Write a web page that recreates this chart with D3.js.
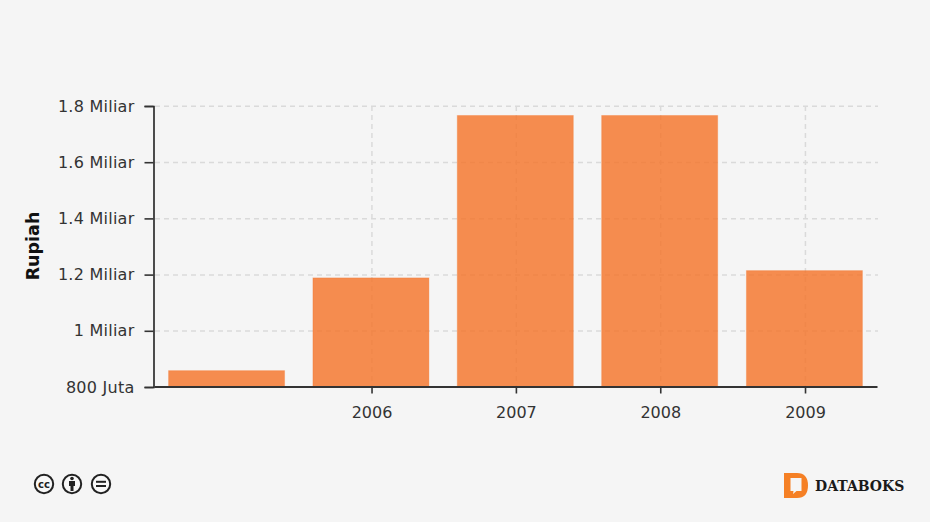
<!DOCTYPE html>
<html><head><meta charset="utf-8">
<script src="https://cdnjs.cloudflare.com/ajax/libs/d3/7.8.5/d3.min.js"></script>
<style>
html,body{margin:0;padding:0;background:#f5f5f5;}
svg{display:block;font-family:"DejaVu Sans",sans-serif;}
</style></head><body><svg id="c" width="930" height="522"></svg>
<script>
const years = [2005, 2006, 2007, 2008, 2009];
const values = [860e6, 1190e6, 1768e6, 1768e6, 1216e6];
const xTickYears = [2006, 2007, 2008, 2009];
const yTicks = [800e6, 1000e6, 1200e6, 1400e6, 1600e6, 1800e6];
const yTickLabels = ["800 Juta", "1 Miliar", "1.2 Miliar", "1.4 Miliar", "1.6 Miliar", "1.8 Miliar"];
const yTitle = "Rupiah";
const brand = "DATABOKS";

const svg = d3.select("#c");
const L = 154, R = 877, T = 106, B = 387;
const d = y => new Date(Date.UTC(y, 0, 1));
const dayPx = 0.3955, x2006 = 371.3;
const x = d3.scaleUtc()
  .domain([d3.utcDay.offset(d(2006), -(x2006 - L) / dayPx), d3.utcDay.offset(d(2006), (R - x2006) / dayPx)])
  .range([L, R]);
const y = d3.scaleLinear().domain([800e6, 1800e6]).range([B, T]);
const barW = 116;

// grid
svg.append("g").selectAll("line").data(yTicks.slice(1)).join("line")
  .attr("x1", L + 1).attr("x2", R + 1).attr("y1", v => y(v) + .3).attr("y2", v => y(v) + .3)
  .attr("stroke", "#dadada").attr("stroke-width", 1.5).attr("stroke-dasharray", "5 4");
svg.append("g").selectAll("line").data(xTickYears).join("line")
  .attr("y1", T).attr("y2", B).attr("x1", v => x(d(v)) + .4).attr("x2", v => x(d(v)) + .4)
  .attr("stroke", "#dadada").attr("stroke-width", 1.5).attr("stroke-dasharray", "5 4");

// bars
svg.append("g").selectAll("rect").data(years).join("rect")
  .attr("x", v => x(d(v)) - barW / 2 - .6)
  .attr("width", barW)
  .attr("y", (v, i) => y(values[i]) + .5)
  .attr("height", (v, i) => B - y(values[i]) - .5)
  .attr("fill", "#f57225").attr("fill-opacity", .8)
  .attr("stroke", "#f57225").attr("stroke-opacity", .3).attr("stroke-width", 1);

// axes
const yAxis = svg.append("g").attr("transform", `translate(${L - .5},0)`)
  .call(d3.axisLeft(y).tickValues(yTicks).tickFormat((v, i) => yTickLabels[i]).tickSize(9).tickPadding(10));
const xAxis = svg.append("g").attr("transform", `translate(0,${B - .5})`)
  .call(d3.axisBottom(x).tickValues(xTickYears.map(d)).tickFormat(t => t.getUTCFullYear()).tickSizeInner(7).tickSizeOuter(0).tickPadding(13));
[yAxis, xAxis].forEach(g => {
  g.selectAll("path").attr("stroke", "#222").attr("stroke-width", 1.6);
  g.selectAll("line").attr("stroke", "#333").attr("stroke-width", 1.6);
  g.selectAll("text").attr("fill", "#333").style("font-size", "16px").style("font-family", '"DejaVu Sans",sans-serif');
});
yAxis.selectAll("text").style("letter-spacing", "0.25px");
xAxis.select("path").attr("stroke-width", 2).attr("stroke", "#333");

svg.append("text").attr("transform", "translate(39,246) rotate(-90)")
  .attr("text-anchor", "middle").attr("font-size", 17.5).attr("font-weight", "bold").attr("fill", "#111").text(yTitle);

// licence icons
const icons = svg.append("g").attr("stroke", "#222").attr("fill", "none");
[44, 72, 101].forEach(cx => icons.append("circle").attr("cx", cx).attr("cy", 484).attr("r", 9.2).attr("stroke-width", 2).attr("fill", "#f8f8f8"));
svg.append("text").attr("x", 44).attr("y", 487.5).attr("text-anchor", "middle").attr("font-size", 10).attr("font-weight", "bold").attr("fill", "#222").text("cc");
const p = svg.append("g").attr("fill", "#222");
p.append("circle").attr("cx", 72).attr("cy", 478.5).attr("r", 1.8);
p.append("path").attr("d", "M69 481h6v5h-1.500v5h-3v-5H69z");
p.append("rect").attr("x", 96).attr("y", 480.8).attr("width", 10).attr("height", 2);
p.append("rect").attr("x", 96).attr("y", 485).attr("width", 10).attr("height", 2);

// logo
svg.append("path").attr("fill", "#f58025").attr("fill-rule", "evenodd")
  .attr("d", "M784 473h13q11 0 11 12.5T797 498h-13zM790.500 478v13h3l-.5 3 3.500-3h5v-13z");
svg.append("text").attr("x", 815).attr("y", 491).attr("font-family", '"DejaVu Serif",serif')
  .attr("font-weight", "bold").attr("font-size", 14).attr("fill", "#1a1a1a").text(brand);
</script></body></html>
